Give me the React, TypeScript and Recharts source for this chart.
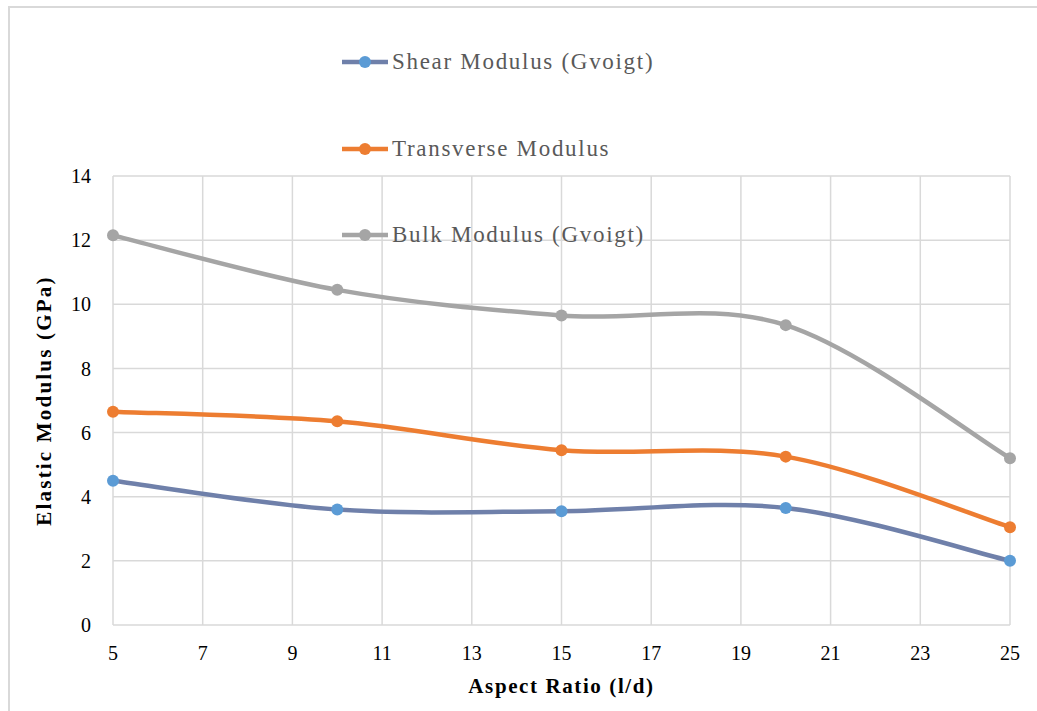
import { LineChart, Line, XAxis, YAxis, CartesianGrid, Legend } from "recharts";

const aspectRatios = [5, 10, 15, 20, 25];
const shearModulus = [4.5, 3.6, 3.55, 3.65, 2.0];
const transverseModulus = [6.65, 6.35, 5.45, 5.25, 3.05];
const bulkModulus = [12.15, 10.45, 9.65, 9.35, 5.2];
const xTicks = [5, 7, 9, 11, 13, 15, 17, 19, 21, 23, 25];
const yTicks = [0, 2, 4, 6, 8, 10, 12, 14];

const series = [
  { key: "shear", name: "Shear Modulus (Gvoigt)", line: "#6f80aa", dot: "#5b9bd5" },
  { key: "transverse", name: "Transverse Modulus", line: "#ed7d31", dot: "#ed7d31" },
  { key: "bulk", name: "Bulk Modulus (Gvoigt)", line: "#a5a5a5", dot: "#a5a5a5" },
];

const data = aspectRatios.map((x, i) => ({
  x,
  shear: shearModulus[i],
  transverse: transverseModulus[i],
  bulk: bulkModulus[i],
}));

// excel style smoothing (catmull-rom as bezier)
const excelCurve = (context: any) => {
  let pts: [number, number][] = [];
  return {
    areaStart() {},
    areaEnd() {},
    lineStart() {
      pts = [];
    },
    lineEnd() {
      if (!pts.length) return;
      context.moveTo(pts[0][0], pts[0][1]);
      for (let i = 0; i < pts.length - 1; i++) {
        const p0 = pts[Math.max(i - 1, 0)];
        const p1 = pts[i];
        const p2 = pts[i + 1];
        const p3 = pts[Math.min(i + 2, pts.length - 1)];
        context.bezierCurveTo(
          p1[0] + (p2[0] - p0[0]) / 6,
          p1[1] + (p2[1] - p0[1]) / 6,
          p2[0] - (p3[0] - p1[0]) / 6,
          p2[1] - (p3[1] - p1[1]) / 6,
          p2[0],
          p2[1]
        );
      }
    },
    point(x: number, y: number) {
      pts.push([+x, +y]);
    },
  };
};

const FONT = '"Liberation Serif", "Times New Roman", serif';

const renderLegend = () => (
  <div style={{ fontFamily: FONT }}>
    {series.map((s) => (
      <div key={s.key} style={{ display: "flex", alignItems: "center", height: 86.5 }}>
        <svg width={50} height={16}>
          <line x1={2} y1={8} x2={48} y2={8} stroke={s.line} strokeWidth={4.5} />
          <circle cx={25} cy={8} r={6} fill={s.dot} />
        </svg>
        <span style={{ fontSize: 23, color: "#595959", letterSpacing: 1.7, marginLeft: 2 }}>
          {s.name}
        </span>
      </div>
    ))}
  </div>
);

const YTitle = ({ viewBox }: any) => (
  <text
    transform={`translate(${viewBox.x + 51}, ${viewBox.y + viewBox.height / 2}) rotate(-90)`}
    textAnchor="middle"
    fontFamily={FONT}
    fontWeight="bold"
    fontSize={21}
    letterSpacing={2.2}
    fill="#000"
  >
    Elastic Modulus (GPa)
  </text>
);

const XTitle = ({ viewBox }: any) => (
  <text
    x={viewBox.x + viewBox.width / 2}
    y={viewBox.y + 68}
    textAnchor="middle"
    fontFamily={FONT}
    fontWeight="bold"
    fontSize={21}
    letterSpacing={1.6}
    fill="#000"
  >
    Aspect Ratio (l/d)
  </text>
);

export default function App() {
  return (
    <div style={{ position: "absolute", left: 0, top: 0, width: 1037, height: 711, background: "#fff", overflow: "hidden" }}>
      <div
        style={{
          position: "absolute",
          left: 8,
          top: 6,
          width: 1100,
          height: 800,
          borderLeft: "2px solid #d9d9d9",
          borderTop: "2px solid #d9d9d9",
        }}
      />
      <LineChart
        width={1037}
        height={711}
        data={data}
        margin={{ top: 176, right: 27, left: 0, bottom: 0 }}
        style={{ position: "absolute", left: 0, top: 0 }}
      >
        <CartesianGrid stroke="#d9d9d9" strokeWidth={1.5} horizontalValues={yTicks} verticalValues={xTicks} />
        <XAxis
          dataKey="x"
          type="number"
          domain={[5, 25]}
          ticks={xTicks}
          height={86}
          axisLine={false}
          tickLine={false}
          tickSize={0}
          tickMargin={21}
          tick={{ fontSize: 20, fill: "#000", fontFamily: FONT }}
          label={{ content: <XTitle /> }}
        />
        <YAxis
          type="number"
          domain={[0, 14]}
          ticks={yTicks}
          width={113}
          axisLine={false}
          tickLine={false}
          tickSize={0}
          tickMargin={22}
          tick={{ fontSize: 20, fill: "#000", fontFamily: FONT }}
          label={{ content: <YTitle /> }}
        />
        <Legend
          content={renderLegend}
          layout="vertical"
          align="center"
          verticalAlign="middle"
          wrapperStyle={{ position: "absolute", top: 19, left: 340, width: 360 }}
        />
        {series.map((s) => (
          <Line
            key={s.key}
            dataKey={s.key}
            name={s.name}
            type={excelCurve as any}
            stroke={s.line}
            strokeWidth={4.5}
            dot={{ r: 6, fill: s.dot, stroke: "none" }}
            activeDot={false}
            isAnimationActive={false}
          />
        ))}
      </LineChart>
    </div>
  );
}
